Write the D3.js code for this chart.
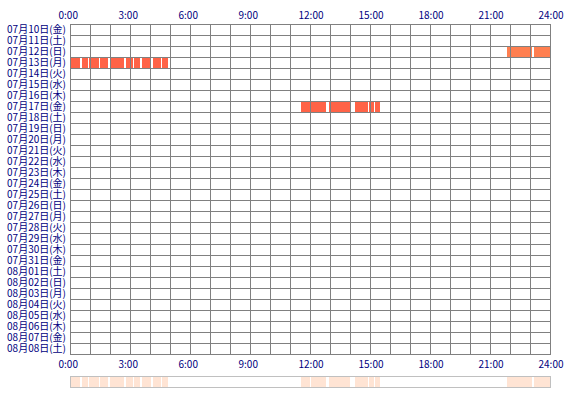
<!DOCTYPE html>
<html>
<head>
<meta charset="utf-8">
<script src="https://cdn.jsdelivr.net/npm/d3@7"></script>
<style>
  body { margin: 0; background: #fff; }
  text { font-family: "Noto Sans CJK JP", sans-serif; fill: #000080; }
</style>
</head>
<body>
<div id="app"></div>
<script>
const days = [
  '07月10日(金)', '07月11日(土)', '07月12日(日)', '07月13日(月)', '07月14日(火)',
  '07月15日(水)', '07月16日(木)', '07月17日(金)', '07月18日(土)', '07月19日(日)',
  '07月20日(月)', '07月21日(火)', '07月22日(水)', '07月23日(木)', '07月24日(金)',
  '07月25日(土)', '07月26日(日)', '07月27日(月)', '07月28日(火)', '07月29日(水)',
  '07月30日(木)', '07月31日(金)', '08月01日(土)', '08月02日(日)', '08月03日(月)',
  '08月04日(火)', '08月05日(水)', '08月06日(木)', '08月07日(金)', '08月08日(土)'
];

const hourTicks = [0, 3, 6, 9, 12, 15, 18, 21, 24];

// [day, start, end]
const sessions = [
  ['07月12日(日)', '21:51', '23:06'],
  ['07月12日(日)', '23:12', '24:00'],
  ['07月13日(月)', '0:03', '0:30'],
  ['07月13日(月)', '0:36', '0:54'],
  ['07月13日(月)', '0:57', '1:27'],
  ['07月13日(月)', '1:30', '1:54'],
  ['07月13日(月)', '2:00', '2:42'],
  ['07月13日(月)', '2:48', '3:09'],
  ['07月13日(月)', '3:12', '3:30'],
  ['07月13日(月)', '3:36', '4:03'],
  ['07月13日(月)', '4:09', '4:33'],
  ['07月13日(月)', '4:36', '4:54'],
  ['07月17日(金)', '11:33', '12:00'],
  ['07月17日(金)', '12:03', '12:48'],
  ['07月17日(金)', '12:57', '14:00'],
  ['07月17日(金)', '14:15', '14:54'],
  ['07月17日(金)', '14:57', '15:12'],
  ['07月17日(金)', '15:15', '15:30']
];

const toMin = s => { const [h, m] = s.split(':'); return +h * 60 + +m; };

const margin = { top: 24, left: 70 };
const gridWidth = 480;
const gridHeight = 330;

const svg = d3.select('#app').append('svg')
  .attr('width', 570)
  .attr('height', 400);

const xScale = d3.scaleLinear()
  .domain([0, 1440])
  .range([margin.left, margin.left + gridWidth]);

const yScale = d3.scaleBand()
  .domain(days)
  .range([margin.top, margin.top + gridHeight]);

const barColor = d => d[0] === '07月12日(日)' ? '#ff7f50' : '#ff6347';

// bars
svg.append('g')
  .selectAll('rect')
  .data(sessions)
  .enter()
  .append('rect')
  .attr('x', d => xScale(toMin(d[1])))
  .attr('y', d => yScale(d[0]))
  .attr('width', d => xScale(toMin(d[2])) - xScale(toMin(d[1])))
  .attr('height', yScale.bandwidth())
  .attr('fill', barColor);

// grid on top of the bars
const grid = svg.append('g')
  .attr('stroke', '#808080')
  .attr('stroke-width', 1)
  .attr('shape-rendering', 'crispEdges');

grid.selectAll('line.v')
  .data(d3.range(0, 25))
  .enter()
  .append('line')
  .attr('class', 'v')
  .attr('x1', h => Math.round(xScale(h * 60)) + 0.5)
  .attr('x2', h => Math.round(xScale(h * 60)) + 0.5)
  .attr('y1', margin.top)
  .attr('y2', margin.top + gridHeight + 1);

grid.selectAll('line.h')
  .data(days.concat(['end']))
  .enter()
  .append('line')
  .attr('class', 'h')
  .attr('x1', margin.left)
  .attr('x2', margin.left + gridWidth + 1)
  .attr('y1', (d, i) => Math.round(margin.top + i * yScale.step()) + 0.5)
  .attr('y2', (d, i) => Math.round(margin.top + i * yScale.step()) + 0.5);

// day labels
const yAxis = svg.append('g')
  .attr('transform', 'translate(' + (margin.left - 4) + ',0)')
  .call(d3.axisLeft(yScale).tickSize(0).tickPadding(0));
yAxis.select('.domain').remove();
yAxis.selectAll('text')
  .attr('font-size', 10)
  .attr('font-family', '"Noto Sans CJK JP", sans-serif')
  .attr('fill', '#000080');

// hour labels, top and bottom
const hourAxis = (axis, y) => {
  const g = svg.append('g')
    .attr('transform', 'translate(0,' + y + ')')
    .call(axis(xScale)
      .tickValues(hourTicks.map(h => h * 60))
      .tickFormat(v => (v / 60) + ':00')
      .tickSize(0)
      .tickPadding(0));
  g.select('.domain').remove();
  g.selectAll('text')
    .attr('x', -12)
    .attr('y', 0)
    .attr('dy', 0)
    .attr('text-anchor', 'start')
    .attr('font-size', 10)
    .attr('font-family', '"Noto Sans CJK JP", sans-serif')
    .attr('fill', '#000080');
};
hourAxis(d3.axisTop, 19);
hourAxis(d3.axisBottom, 368);

// summary strip
const strip = svg.append('g');
strip.selectAll('rect')
  .data(sessions)
  .enter()
  .append('rect')
  .attr('x', d => xScale(toMin(d[1])))
  .attr('y', 377)
  .attr('width', d => xScale(toMin(d[2])) - xScale(toMin(d[1])))
  .attr('height', 10)
  .attr('fill', '#ffe4d4');
strip.append('rect')
  .attr('x', margin.left + 0.5)
  .attr('y', 376.5)
  .attr('width', gridWidth)
  .attr('height', 11)
  .attr('fill', 'none')
  .attr('stroke', '#c0c0c0');
</script>
</body>
</html>
